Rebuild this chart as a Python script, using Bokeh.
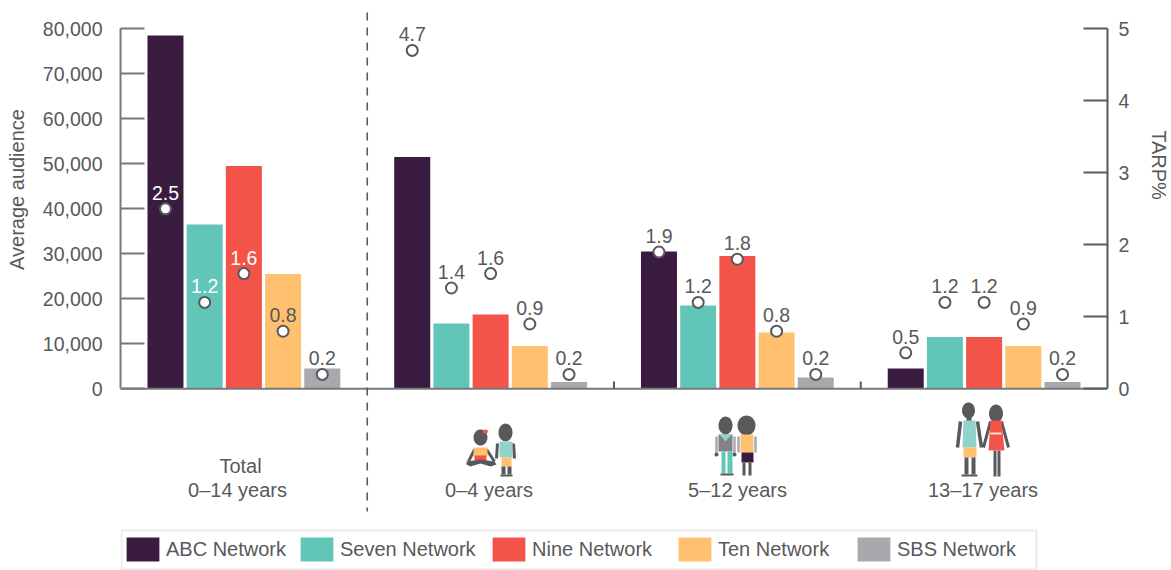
import numpy as np
from bokeh.embed import file_html
from bokeh.resources import INLINE
from bokeh.plotting import figure
from bokeh.models import (BoxAnnotation, ColumnDataSource, FixedTicker, Label, Legend, LegendItem, LinearAxis,
                          NumeralTickFormatter, Range1d)
from bokeh.core.properties import value

# ---------- data ----------
group_labels = ["0\u201314 years", "0\u20134 years", "5\u201312 years", "13\u201317 years"]
networks = ["ABC Network", "Seven Network", "Nine Network", "Ten Network", "SBS Network"]
colors = ["#3a1c40", "#61c6b8", "#f4534a", "#ffc170", "#a7a9ac"]

abc_audience = [78500, 51500, 30500, 4500]
seven_audience = [36500, 14500, 18500, 11500]
nine_audience = [49500, 16500, 29500, 11500]
ten_audience = [25500, 9500, 12500, 9500]
sbs_audience = [4500, 1500, 2500, 1500]

abc_tarp = [2.5, 4.7, 1.9, 0.5]
seven_tarp = [1.2, 1.4, 1.2, 1.2]
nine_tarp = [1.6, 1.6, 1.8, 1.2]
ten_tarp = [0.8, 0.9, 0.8, 0.9]
sbs_tarp = [0.2, 0.2, 0.2, 0.2]

audience = [abc_audience, seven_audience, nine_audience, ten_audience, sbs_audience]
tarp = [abc_tarp, seven_tarp, nine_tarp, ten_tarp, sbs_tarp]
left_ticks = [0, 10000, 20000, 30000, 40000, 50000, 60000, 70000, 80000]
right_ticks = [0, 1, 2, 3, 4, 5]

# ---------- layout (page pixels <-> data) ----------
W, H = 1171, 570
FL, FR, FT, FB = 120, 1107, 8, 570
PX_GROUP = (FR - FL) / 4
PX_UNIT = 360 / 80000
Y0 = 388.3


def X(px):
    return -0.5 + (px - FL) / PX_GROUP


def Y(py):
    return (Y0 - py) / PX_UNIT


GREY = "#58595b"
FONT = value("Liberation Sans")
FS = "19.5px"

p = figure(width=W, height=H, output_backend="svg", toolbar_location=None,
           x_range=Range1d(X(FL), X(FR)), y_range=Range1d(Y(FB), Y(FT)),
           min_border_left=FL, min_border_right=W - FR, min_border_top=FT, min_border_bottom=H - FB,
           x_axis_location=None, y_axis_location=None, outline_line_color=None,
           background_fill_color="white", border_fill_color="white")
p.grid.visible = False
p.extra_y_ranges = {"tarp": Range1d(Y(FB) * 5 / 80000, Y(FT) * 5 / 80000)}

left = LinearAxis(bounds=(0, 80000), ticker=FixedTicker(ticks=left_ticks),
                  formatter=NumeralTickFormatter(format="0,0"),
                  major_tick_in=24, major_tick_out=0, minor_tick_line_color=None,
                  axis_line_color="#77787b", axis_line_width=2,
                  major_tick_line_color="#77787b", major_tick_line_width=2,
                  major_label_standoff=18, major_label_text_color=GREY,
                  major_label_text_font="Liberation Sans", major_label_text_font_size=FS)
p.add_layout(left, "left")
right = LinearAxis(y_range_name="tarp", bounds=(0, 5), ticker=FixedTicker(ticks=right_ticks),
                   major_tick_in=24, major_tick_out=0, minor_tick_line_color=None,
                   axis_line_color=GREY, axis_line_width=2,
                   major_tick_line_color=GREY, major_tick_line_width=2,
                   major_label_standoff=11, major_label_text_color=GREY,
                   major_label_text_font="Liberation Sans", major_label_text_font_size=FS)
p.add_layout(right, "right")

# axis titles sit off-centre in the reference, so they are placed labels in the side panels
p.add_layout(Label(x=X(16), y=Y(189), text="Average audience", angle=np.pi / 2, text_color=GREY,
                   text_align="center", text_baseline="middle", text_font="Liberation Sans",
                   text_font_size="20px"), "left")
p.add_layout(Label(x=X(1158), y=Y(164.5), text="TARP%", angle=-np.pi / 2, text_color=GREY,
                   text_align="center", text_baseline="middle", text_font="Liberation Sans",
                   text_font_size="20px"), "right")

# ---------- pictograms (behind everything, pixel outlines mapped to data) ----------
DK, TE, OR, RD, PU, MG = "#58595b", "#8fd3ca", "#ffc170", "#f4534a", "#3a1c40", "#808285"
shapes = []


def ell(cx, cy, rx, ry, c):
    t = np.linspace(0, 2 * np.pi, 28)
    shapes.append((c, list(cx + rx * np.cos(t)), list(cy + ry * np.sin(t))))


def box(x0, y0, x1, y1, c):
    shapes.append((c, [x0, x1, x1, x0], [y0, y0, y1, y1]))


def poly(pts, c):
    shapes.append((c, [a for a, _ in pts], [b for _, b in pts]))


def limb(x0, y0, x1, y1, w, c):
    d = np.array([x1 - x0, y1 - y0], float)
    n = np.array([-d[1], d[0]]) / np.hypot(*d) * w / 2
    poly([(x0 + n[0], y0 + n[1]), (x1 + n[0], y1 + n[1]), (x1 - n[0], y1 - n[1]), (x0 - n[0], y0 - n[1])], c)


# baby and toddler
ell(480, 437, 7, 8, DK)
ell(485, 431, 2.5, 2, RD)
limb(474, 449, 468, 461, 3, DK)
limb(486, 449, 494, 461, 3, DK)
box(473, 447, 487, 456, OR)
box(474, 455, 486, 460, RD)
poly([(466, 461), (480, 459), (494, 461), (496, 464), (490, 466), (480, 463), (470, 466), (466, 464)], DK)
ell(505, 432, 7, 9, DK)
limb(497, 443, 496, 458, 3, DK)
limb(513, 443, 514, 458, 3, DK)
box(499, 441, 512, 457, TE)
box(501, 457, 511, 466, OR)
box(501, 466, 505, 474, DK)
box(507, 466, 511, 474, DK)
box(500, 474, 512, 476, DK)
# school children
ell(725, 425, 7, 9, DK)
limb(716, 436, 716, 452, 2.5, "#a7a9ac")
limb(734, 436, 734, 452, 2.5, "#a7a9ac")
ell(716, 454, 2, 2, DK)
ell(734, 454, 2, 2, DK)
box(718, 434, 732, 451, MG)
poly([(719, 434), (731, 434), (725, 441)], TE)
box(721, 451, 725, 473, "#61c6b8")
box(727, 451, 732, 473, "#61c6b8")
box(720, 473, 733, 475, DK)
ell(746, 425, 9, 10, DK)
limb(738, 436, 738, 452, 2.5, "#a7a9ac")
limb(755, 436, 755, 452, 2.5, "#a7a9ac")
box(740, 434, 753, 452, OR)
box(741, 452, 753, 462, PU)
box(742, 462, 745, 475, DK)
box(748, 462, 751, 475, DK)
# teenagers
ell(968, 410, 6.5, 8, DK)
box(966, 416, 971, 421, DK)
limb(960, 421, 957, 447, 3.5, DK)
limb(977, 421, 981, 447, 3.5, DK)
poly([(963, 420), (975, 420), (976, 447), (962, 447)], TE)
box(963, 447, 976, 457, OR)
box(964, 457, 968, 474, DK)
box(971, 457, 975, 474, DK)
box(961, 474, 977, 476, DK)
ell(995.5, 413, 7, 9, DK)
limb(990, 421, 983, 447, 3, DK)
limb(1001, 421, 1008, 447, 3, DK)
box(993, 450, 996, 476, DK)
box(997, 450, 1000, 476, DK)
poly([(990, 420), (1001, 420), (1004, 450), (988, 450)], RD)
box(990, 432, 1001, 434, "#fde0d8")

p.patches(xs=[[X(a) for a in s[1]] for s in shapes], ys=[[Y(b) for b in s[2]] for s in shapes],
          fill_color=[s[0] for s in shapes], line_color=None)

# ---------- bars ----------
BAR_STEP = 39.2 / PX_GROUP
BAR_W = 36 / PX_GROUP
groups = np.arange(len(group_labels))
bar_renderers = []
for i, name in enumerate(networks):
    x = groups + (i - 2) * BAR_STEP
    src = ColumnDataSource(dict(x=x, top=audience[i]))
    bar_renderers.append(p.vbar(x="x", top="top", width=BAR_W, bottom=0, source=src,
                                fill_color=colors[i], line_color=None))

# ---------- baseline, separators ----------
p.segment(x0=[X(FL)], x1=[X(FR)], y0=[0], y1=[0], line_color="#77787b", line_width=2)
p.segment(x0=[1.5, 2.5], x1=[1.5, 2.5], y0=[0, 0], y1=[Y(381), Y(381)], line_color=GREY, line_width=2)
p.segment(x0=[0.5], x1=[0.5], y0=[Y(12)], y1=[Y(511)], line_color=GREY, line_width=1.6, line_dash="8 7")

# ---------- TARP markers and labels ----------
for i in range(len(networks)):
    x = groups + (i - 2) * BAR_STEP
    label_colors = ["white" if (g == 0 and i < 3) else GREY for g in groups]
    src = ColumnDataSource(dict(x=x, y=tarp[i], t=[f"{v:.1f}" for v in tarp[i]], c=label_colors))
    p.scatter(x="x", y="y", source=src, y_range_name="tarp", size=11, fill_color="white",
              line_color=GREY, line_width=2)
    p.text(x="x", y="y", text="t", source=src, y_range_name="tarp", text_color="c",
           text_align="center", text_baseline="alphabetic", y_offset=-16,
           text_font=FONT, text_font_size=FS)

# ---------- group labels ----------
p.text(x=[X(240), X(237), X(488.5), X(737), X(982.5)], y=[Y(465), Y(489), Y(489), Y(489), Y(489)],
       text=["Total"] + group_labels, text_color=GREY, text_align="center", text_baseline="alphabetic",
       text_font=FONT, text_font_size="20px")

# ---------- legend: one frame, one entry per network placed along it ----------
p.add_layout(BoxAnnotation(left=X(121), right=X(1036), top=Y(530), bottom=Y(569), fill_color=None,
                           line_color="#bcbec0", line_width=2))
swatch_px = [127, 301, 493, 679, 858]
for i, name in enumerate(networks):
    legend = Legend(items=[LegendItem(label=name, renderers=[bar_renderers[i]])],
                    orientation="horizontal", location=(swatch_px[i] - 5 - FL, 6), margin=0, padding=4,
                    glyph_width=41, glyph_height=30, label_standoff=3,
                    label_text_color=GREY, label_text_font="Liberation Sans", label_text_font_size="20px",
                    border_line_color=None, background_fill_alpha=0)
    p.add_layout(legend, "center")

open("out.html", "w").write(file_html(p, INLINE))
